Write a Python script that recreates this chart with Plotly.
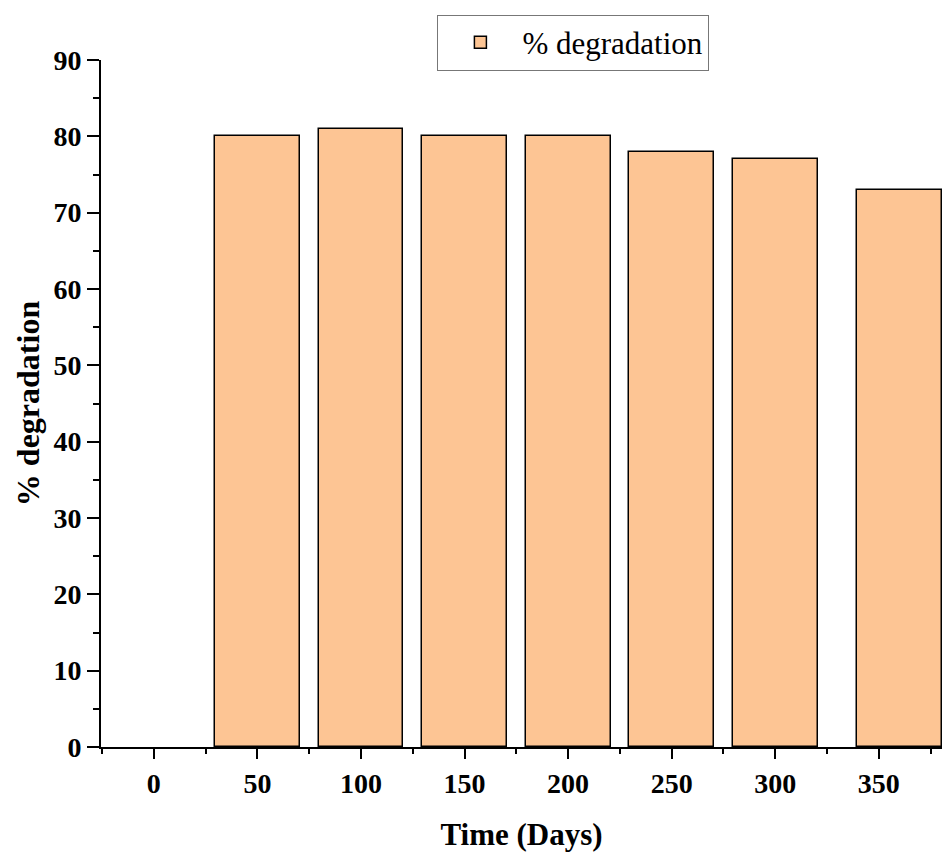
import plotly.graph_objects as go

days = [50, 100, 150, 200, 250, 300, 360]
degradation = [80, 81, 80, 80, 78, 77, 73]
x_tick_vals = [0, 50, 100, 150, 200, 250, 300, 350]
x_tick_text = ["0", "50", "100", "150", "200", "250", "300", "350"]
y_tick_vals = [0, 10, 20, 30, 40, 50, 60, 70, 80, 90]

FONT = "Liberation Serif, Times New Roman, serif"

fig = go.Figure()
fig.add_trace(go.Bar(
    x=days, y=degradation, width=41,
    name="% degradation",
    marker=dict(color="#FDC594", line=dict(color="black", width=1.5)),
    showlegend=True,
))

fig.update_layout(
    width=943, height=852,
    paper_bgcolor="white", plot_bgcolor="white",
    margin=dict(l=101, r=1, t=60, b=105),
    font=dict(family=FONT, color="black"),
    showlegend=True,
    legend=dict(
        x=0.4, y=1.066, xanchor="left", yanchor="top",
        bordercolor="#777777", borderwidth=1,
        font=dict(family=FONT, size=31, color="black"),
        itemwidth=74,
    ),
    bargap=0,
)
fig.update_xaxes(
    range=[-25.5, 380.5],
    tickvals=x_tick_vals, ticktext=x_tick_text,
    ticks="outside", ticklen=10, tickwidth=2, tickcolor="black",
    minor=dict(tick0=25, dtick=50, ticks="outside", ticklen=5, tickwidth=2, tickcolor="black"),
    showline=True, linecolor="black", linewidth=2,
    showgrid=False, zeroline=False,
    tickfont=dict(family=FONT, size=28, color="black", weight="bold"),
    title=dict(text="<b>Time (Days)</b>", font=dict(family=FONT, size=31, color="black"), standoff=26),
)
fig.update_yaxes(
    range=[0, 90],
    tickvals=y_tick_vals,
    ticks="outside", ticklen=12, tickwidth=2, tickcolor="black",
    minor=dict(dtick=5, ticks="outside", ticklen=6, tickwidth=2, tickcolor="black"),
    showline=True, linecolor="black", linewidth=2,
    showgrid=False, zeroline=False,
    tickfont=dict(family=FONT, size=28, color="black", weight="bold"),
    title=dict(text="<b>% degradation</b>", font=dict(family=FONT, size=32, color="black"), standoff=4),
)

fig.write_html(
    "out.html",
    config={"displayModeBar": False},
    post_script="document.body.style.margin='0';document.body.style.overflow='hidden';",
)
